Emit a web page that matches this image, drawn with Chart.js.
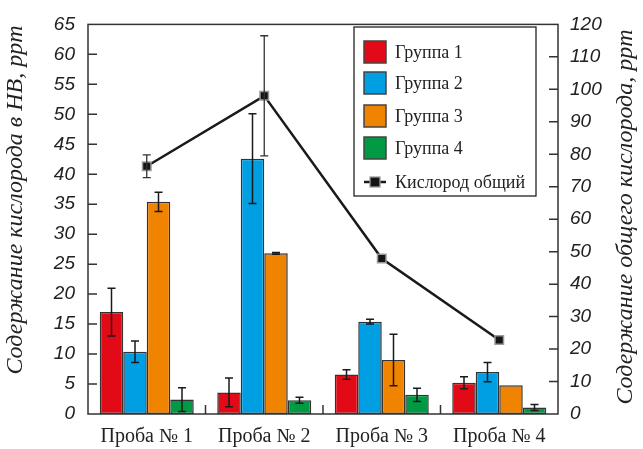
<!DOCTYPE html>
<html lang="ru">
<head>
<meta charset="UTF-8">
<title>Содержание кислорода</title>
<script src="https://cdn.jsdelivr.net/npm/chart.js"></script>
<style>
  html, body { margin: 0; padding: 0; background: #fff; }
  #wrap { width: 643px; height: 449px; }
</style>
</head>
<body>
<div id="wrap"><canvas id="chart"></canvas></div>
<script>
// categories and values
const samples = ['Проба № 1', 'Проба № 2', 'Проба № 3', 'Проба № 4'];
const groupNames = ['Группа 1', 'Группа 2', 'Группа 3', 'Группа 4'];
const group1 = [17.0, 3.6, 6.6, 5.2];
const group2 = [10.4, 42.6, 15.4, 7.0];
const group3 = [35.4, 26.8, 9.0, 4.8];
const group4 = [2.4, 2.3, 3.2, 1.1];
const group1Err = [4.0, 2.4, 0.8, 1.0];
const group2Err = [1.8, 7.5, 0.4, 1.6];
const group3Err = [1.6, 0.15, 4.3, 0];
const group4Err = [2.0, 0.5, 1.1, 0.5];
const oxygenTotal = [76.3, 98.0, 47.9, 22.8];
const oxygenErr = [3.5, 18.5, 0, 0];
const leftTicks = [0, 5, 10, 15, 20, 25, 30, 35, 40, 45, 50, 55, 60, 65];
const rightTicks = [0, 10, 20, 30, 40, 50, 60, 70, 80, 90, 100, 110, 120];
const leftTitle = 'Содержание кислорода в НВ, ppm';
const rightTitle = 'Содержание общего кислорода, ppm';

const colors = ['#e30a17', '#009fe3', '#f08300', '#009a44'];
const ink = '#222';

const groups = [group1, group2, group3, group4];
const groupErrs = [group1Err, group2Err, group3Err, group4Err];

const datasets = groups.map((g, i) => ({
    type: 'bar',
    label: groupNames[i],
    data: g,
    err: groupErrs[i],
    backgroundColor: colors[i],
    borderColor: '#333',
    borderWidth: 1.5,
    borderSkipped: false,
    categoryPercentage: 0.8,
    barPercentage: 1.0,
    yAxisID: 'y',
    order: 2
}));
datasets.push({
    type: 'line',
    label: 'Кислород общий',
    data: oxygenTotal,
    err: oxygenErr,
    borderColor: '#1a1a1a',
    borderWidth: 2.5,
    pointStyle: 'rect',
    pointRadius: 6,
    pointBackgroundColor: '#151515',
    pointBorderColor: '#9a9a9a',
    pointBorderWidth: 1.5,
    yAxisID: 'y1',
    order: 1
});

// error bars, inward ticks, frame, axis titles and boxed legend
const extras = {
    id: 'extras',
    afterDatasetsDraw(chart) {
        const ctx = chart.ctx;
        ctx.save();
        chart.data.datasets.forEach((ds, i) => {
            const meta = chart.getDatasetMeta(i);
            const scale = chart.scales[ds.yAxisID];
            meta.data.forEach((el, j) => {
                const e = ds.err[j];
                if (!e) return;
                const v = ds.data[j];
                const yt = scale.getPixelForValue(v + e);
                const yb = scale.getPixelForValue(Math.max(v - e, 0));
                ctx.strokeStyle = ds.type === 'line' ? '#333' : '#1a1a1a';
                ctx.lineWidth = ds.type === 'line' ? 1.3 : 1.5;
                ctx.beginPath();
                ctx.moveTo(el.x, yt); ctx.lineTo(el.x, yb);
                ctx.moveTo(el.x - 4, yt); ctx.lineTo(el.x + 4, yt);
                ctx.moveTo(el.x - 4, yb); ctx.lineTo(el.x + 4, yb);
                ctx.stroke();
            });
        });
        ctx.restore();
    },
    afterDraw(chart) {
        const ctx = chart.ctx;
        const a = chart.chartArea;
        const y = chart.scales.y, y1 = chart.scales.y1, x = chart.scales.x;
        ctx.save();
        ctx.strokeStyle = '#333';
        ctx.lineWidth = 1.5;
        ctx.strokeRect(a.left, a.top, a.right - a.left, a.bottom - a.top);
        ctx.beginPath();
        leftTicks.forEach(t => {
            if (t === 0 || t === 65) return;
            const p = y.getPixelForValue(t);
            ctx.moveTo(a.left, p); ctx.lineTo(a.left + 9, p);
        });
        rightTicks.forEach(t => {
            if (t === 0 || t === 120) return;
            const p = y1.getPixelForValue(t);
            ctx.moveTo(a.right, p); ctx.lineTo(a.right - 9, p);
        });
        for (let i = 1; i < samples.length; i++) {
            const p = (x.getPixelForValue(i - 1) + x.getPixelForValue(i)) / 2;
            ctx.moveTo(p, a.bottom); ctx.lineTo(p, a.bottom - 9);
        }
        ctx.stroke();

        // axis titles, both read bottom to top
        ctx.fillStyle = ink;
        ctx.font = 'italic 24px "Liberation Serif", serif';
        ctx.textAlign = 'center';
        ctx.textBaseline = 'middle';
        [[16, 200, leftTitle], [626, 217, rightTitle]].forEach(([tx, ty, txt]) => {
            ctx.save();
            ctx.translate(tx, ty);
            ctx.rotate(-Math.PI / 2);
            ctx.fillText(txt, 0, 0);
            ctx.restore();
        });

        // legend box
        ctx.textAlign = 'left';
        const lx = 354, ly = 27, lw = 182, lh = 169;
        ctx.fillStyle = '#fff';
        ctx.fillRect(lx, ly, lw, lh);
        ctx.strokeStyle = '#222';
        ctx.lineWidth = 1.3;
        ctx.strokeRect(lx, ly, lw, lh);
        ctx.font = '18px "Liberation Serif", serif';
        const rows = [52, 83, 116, 148, 182];
        groupNames.forEach((name, i) => {
            ctx.fillStyle = colors[i];
            ctx.fillRect(364, rows[i] - 11, 22, 22);
            ctx.strokeStyle = '#444';
            ctx.lineWidth = 1.5;
            ctx.strokeRect(364, rows[i] - 11, 22, 22);
            ctx.fillStyle = ink;
            ctx.fillText(name, 395, rows[i] + 1);
        });
        const r = rows[4];
        ctx.strokeStyle = '#1a1a1a';
        ctx.lineWidth = 2.5;
        ctx.beginPath();
        ctx.moveTo(364, r); ctx.lineTo(386, r);
        ctx.stroke();
        ctx.fillStyle = '#151515';
        ctx.fillRect(370, r - 5, 10, 10);
        ctx.strokeStyle = '#9a9a9a';
        ctx.lineWidth = 1.3;
        ctx.strokeRect(370, r - 5, 10, 10);
        ctx.fillStyle = ink;
        ctx.fillText('Кислород общий', 395, r + 1);
        ctx.restore();
    }
};

const tickFont = { family: '"Liberation Sans", sans-serif', style: 'italic', size: 19 };

new Chart(document.getElementById('chart'), {
    type: 'bar',
    data: { labels: samples, datasets: datasets },
    options: {
        responsive: true,
        maintainAspectRatio: false,
        animation: false,
        layout: { padding: { top: 21, left: 0, right: 0, bottom: 0 } },
        plugins: { legend: { display: false }, tooltip: { enabled: false } },
        scales: {
            x: {
                offset: true,
                grid: { display: false, drawTicks: false },
                border: { display: false },
                ticks: { color: ink, padding: 11, font: { family: '"Liberation Serif", serif', size: 20 } },
                afterFit: s => { s.height = 35; }
            },
            y: {
                position: 'left',
                min: 0, max: 65,
                afterBuildTicks: s => { s.ticks = leftTicks.map(v => ({ value: v })); },
                grid: { display: false, drawTicks: false },
                border: { display: false },
                ticks: { color: ink, padding: 13, font: tickFont },
                afterFit: s => { s.width = 88; }
            },
            y1: {
                position: 'right',
                min: 0, max: 120,
                afterBuildTicks: s => { s.ticks = rightTicks.map(v => ({ value: v })); },
                grid: { display: false, drawTicks: false },
                border: { display: false },
                ticks: { color: ink, padding: 12, font: tickFont },
                afterFit: s => { s.width = 85; }
            }
        }
    },
    plugins: [extras]
});
</script>
</body>
</html>
